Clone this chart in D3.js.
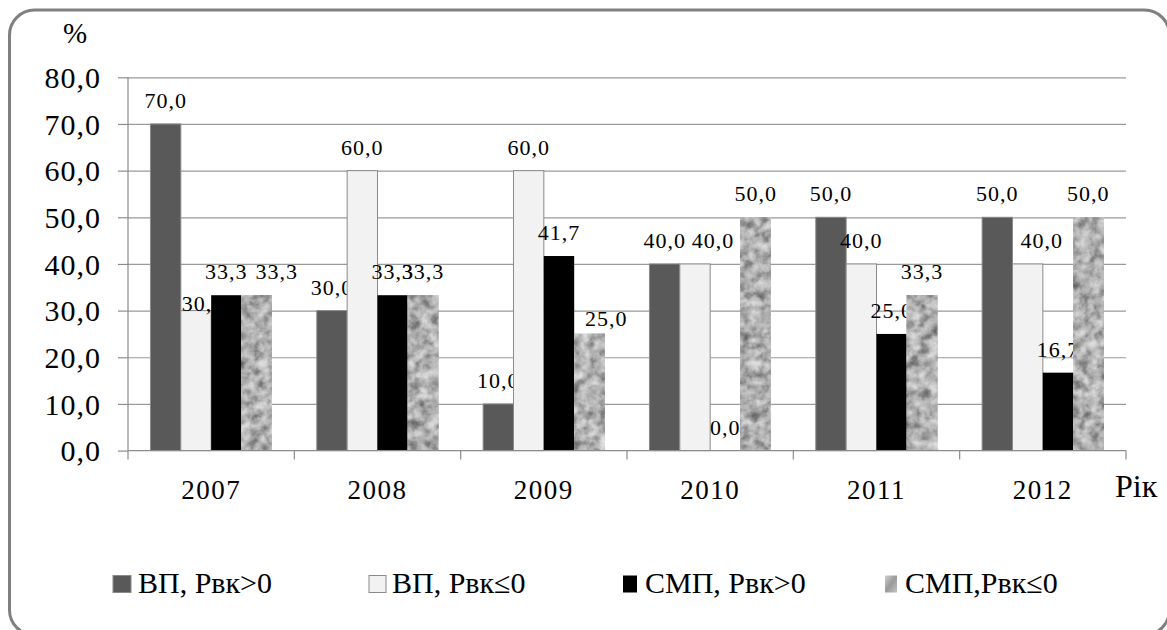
<!DOCTYPE html>
<html>
<head>
<meta charset="utf-8">
<script src="https://cdn.jsdelivr.net/npm/d3@7"></script>
<style>
  html, body { margin: 0; padding: 0; background: #fff; }
  svg { display: block; }
</style>
</head>
<body>
<svg id="chart" width="1167" height="630"></svg>
<script>
// Years on the horizontal axis
const years = ["2007", "2008", "2009", "2010", "2011", "2012"];

// Series names (legend order)
const seriesNames = ["ВП, Рвк>0", "ВП, Рвк≤0", "СМП, Рвк>0", "СМП,Рвк≤0"];

// Share of enterprises, %
const vpPositive   = [70.0, 30.0, 10.0, 40.0, 50.0, 50.0];
const vpNonPos     = [30.0, 60.0, 60.0, 40.0, 40.0, 40.0];
const smpPositive  = [33.3, 33.3, 41.7, 0.0, 25.0, 16.7];
const smpNonPos    = [33.3, 33.3, 25.0, 50.0, 33.3, 50.0];

// Vertical axis ticks
const yTicks = [0, 10, 20, 30, 40, 50, 60, 70, 80];

const seriesValues = [vpPositive, vpNonPos, smpPositive, smpNonPos];

// Hand-placed label nudges (series index, year index) -> [dx, dy]
const labelNudge = {
  "1-0": [7, 16],
  "3-0": [20, 0],
  "3-2": [17, 8],
  "1-3": [18, 0],
  "1-5": [14, 0]
};

const FONT = "Liberation Serif";
const svg = d3.select("#chart");
const comma = v => d3.format(".1f")(v).replace(".", ",");

const plot = { left: 128, right: 1126, top: 77.3, bottom: 450.6 };

const x0 = d3.scaleBand().domain(years).range([plot.left, plot.right]).padding(0);
const x1 = d3.scaleBand().domain(d3.range(seriesNames.length))
  .range([0, x0.bandwidth()]).paddingInner(0).paddingOuter(0.74);
const y = d3.scaleLinear().domain([0, 80]).range([plot.bottom, plot.top]);

// Granite texture for the last series
const defs = svg.append("defs");
const f = defs.append("filter").attr("id", "granite")
  .attr("x", 0).attr("y", 0).attr("width", 1).attr("height", 1)
  .attr("color-interpolation-filters", "sRGB");
f.append("feTurbulence").attr("type", "fractalNoise")
  .attr("baseFrequency", 0.1).attr("numOctaves", 3).attr("seed", 11).attr("result", "noise");
f.append("feColorMatrix").attr("in", "noise").attr("type", "matrix")
  .attr("values", "0.5 0.5 0 0 0  0.5 0.5 0 0 0  0.5 0.5 0 0 0  0 0 0 0 1")
  .attr("result", "gray");
const ct = f.append("feComponentTransfer").attr("in", "gray").attr("result", "tone");
["feFuncR", "feFuncG", "feFuncB"].forEach(fn =>
  ct.append(fn).attr("type", "table").attr("tableValues", "0.28 0.36 0.52 0.7 0.83 0.9 0.94"));
f.append("feComposite").attr("in", "tone").attr("in2", "SourceGraphic").attr("operator", "in");

const lg = defs.append("linearGradient").attr("id", "legendGray")
  .attr("x1", 0).attr("y1", 0).attr("x2", 1).attr("y2", 1);
lg.append("stop").attr("offset", "0").attr("stop-color", "#cfcfcf");
lg.append("stop").attr("offset", "0.5").attr("stop-color", "#9a9a9a");
lg.append("stop").attr("offset", "1").attr("stop-color", "#c4c4c4");

// Outer frame
svg.append("rect")
  .attr("x", 9.5).attr("y", 10).attr("width", 1160).attr("height", 625)
  .attr("rx", 25).attr("ry", 25)
  .attr("fill", "#fff").attr("stroke", "#808080").attr("stroke-width", 3);

// Gridlines
svg.append("g")
  .attr("transform", `translate(${plot.left},0)`)
  .call(d3.axisLeft(y).tickValues(yTicks.slice(1)).tickSize(-(plot.right - plot.left)).tickFormat(""))
  .call(g => g.select(".domain").remove())
  .call(g => g.selectAll("line").attr("stroke", "#9a9a9a").attr("stroke-width", 1.2));

// Y axis
const yAxis = svg.append("g")
  .attr("transform", `translate(${plot.left},0)`)
  .call(d3.axisLeft(y).tickValues(yTicks).tickSize(10).tickPadding(17).tickFormat(comma));
yAxis.attr("font-family", null).attr("font-size", null);
yAxis.select(".domain").attr("stroke", "#8c8c8c").attr("stroke-width", 1.2).attr("d", `M0,${plot.top}V${plot.bottom}`);
yAxis.selectAll(".tick line").attr("stroke", "#8c8c8c").attr("stroke-width", 1.2);
yAxis.selectAll(".tick text")
  .style("font-family", FONT).style("font-size", "30px").style("letter-spacing", "1px")
  .attr("fill", "#000").attr("dy", "0.34em");

// Bars and value labels, drawn one series at a time
const fills = ["#595959", "#f2f2f2", "#000000", "#b0b0b0"];
seriesValues.forEach((vals, s) => {
  const g = svg.append("g");
  g.selectAll("rect").data(vals).join("rect")
    .attr("x", (d, i) => x0(years[i]) + x1(s))
    .attr("y", d => y(d))
    .attr("width", x1.bandwidth())
    .attr("height", d => y(0) - y(d))
    .attr("fill", fills[s])
    .attr("stroke", s === 2 ? "none" : "#8a8a8a")
    .attr("stroke-width", 1)
    .attr("filter", s === 3 ? "url(#granite)" : null);
  g.selectAll("text").data(vals).join("text")
    .attr("x", (d, i) => x0(years[i]) + x1(s) + x1.bandwidth() / 2 + ((labelNudge[`${s}-${i}`] || [0, 0])[0]))
    .attr("y", (d, i) => y(d) - 16 + ((labelNudge[`${s}-${i}`] || [0, 0])[1]))
    .attr("text-anchor", "middle")
    .style("font-family", FONT).style("font-size", "22px").style("letter-spacing", "1px")
    .attr("fill", "#000")
    .text(d => comma(d));
});

// X axis line with boundary ticks
const xg = svg.append("g");
xg.append("line")
  .attr("x1", plot.left).attr("x2", plot.right).attr("y1", y(0)).attr("y2", y(0))
  .attr("stroke", "#8c8c8c").attr("stroke-width", 1.2);
const bounds = years.map(yr => x0(yr)).concat([x0(years[years.length - 1]) + x0.bandwidth()]);
xg.selectAll("line.tk").data(bounds).join("line").attr("class", "tk")
  .attr("x1", d => d).attr("x2", d => d).attr("y1", y(0)).attr("y2", y(0) + 9)
  .attr("stroke", "#8c8c8c").attr("stroke-width", 1.2);
xg.selectAll("text").data(years).join("text")
  .attr("x", d => x0(d) + x0.bandwidth() / 2)
  .attr("y", 499)
  .attr("text-anchor", "middle")
  .style("font-family", FONT).style("font-size", "27px").style("letter-spacing", "1.5px")
  .attr("fill", "#000")
  .text(d => d);

// Axis titles
svg.append("text").attr("x", 75).attr("y", 43).attr("text-anchor", "middle")
  .style("font-family", FONT).style("font-size", "29px")
  .attr("fill", "#000").text("%");
svg.append("text").attr("x", 1115).attr("y", 497)
  .style("font-family", FONT).style("font-size", "32px")
  .attr("fill", "#000").text("Рік");

// Legend
const legendX = [113, 369, 623, 885];
const legendTextX = [138, 392, 645, 905];
const boxW = [18, 17, 14, 12];
const legendFill = ["#595959", "#f2f2f2", "#000000", "url(#legendGray)"];
const lgG = svg.append("g");
seriesNames.forEach((name, s) => {
  lgG.append("rect")
    .attr("x", legendX[s]).attr("y", 575.5)
    .attr("width", boxW[s]).attr("height", 17)
    .attr("fill", legendFill[s])
    .attr("stroke", s < 2 ? "#8a8a8a" : "none")
    .attr("stroke-width", 1);
  lgG.append("text")
    .attr("x", legendTextX[s]).attr("y", 593)
    .style("font-family", FONT).style("font-size", "30px")
    .attr("fill", "#000")
    .text(name);
});
</script>
</body>
</html>
